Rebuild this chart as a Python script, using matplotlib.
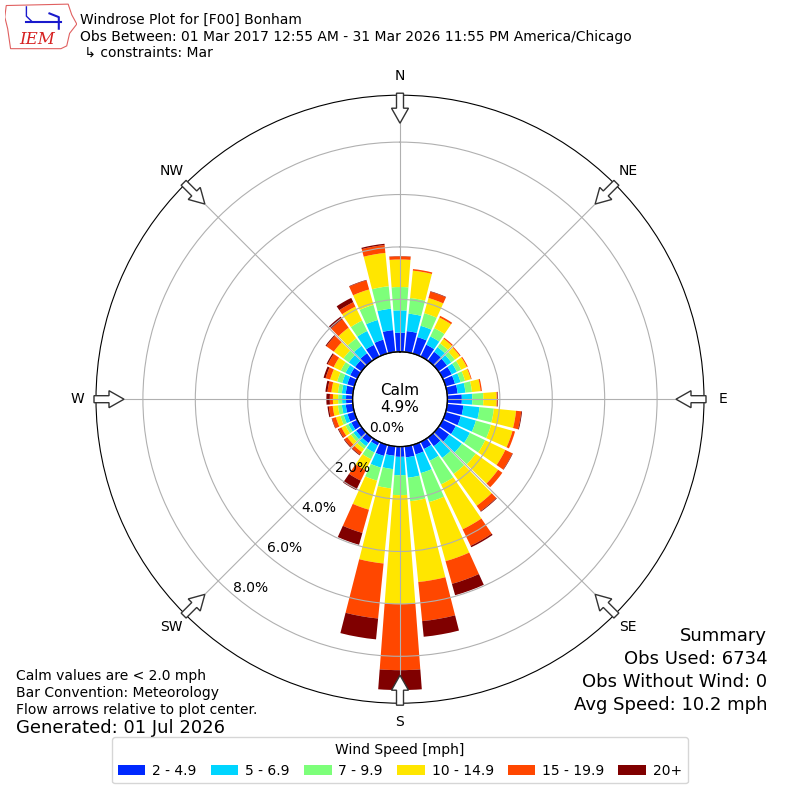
import numpy as np
import matplotlib
matplotlib.use("Agg")
import matplotlib.pyplot as plt
from matplotlib.patches import FancyArrow, Polygon, Patch

# direction bins (degrees, direction wind blows from)
directions = np.arange(0, 360, 10)
speed_labels = ['2 - 4.9', '5 - 6.9', '7 - 9.9', '10 - 14.9', '15 - 19.9', '20+']

# frequency (%) per direction for each speed bin
s_2_5 = [0.73, 0.80, 0.65, 0.50, 0.42, 0.40, 0.38, 0.37, 0.40, 0.55, 0.62, 0.60,
         0.55, 0.50, 0.40, 0.30, 0.38, 0.42, 0.39, 0.36, 0.44, 0.15, 0.25, 0.25,
         0.25, 0.27, 0.27, 0.25, 0.27, 0.28, 0.30, 0.30, 0.35, 0.49, 0.55, 0.84]
s_5_7 = [0.85, 0.67, 0.45, 0.35, 0.22, 0.20, 0.22, 0.22, 0.30, 0.40, 0.62, 0.60,
         0.60, 0.60, 0.55, 0.50, 0.74, 0.78, 0.70, 0.51, 0.46, 0.30, 0.15, 0.13,
         0.13, 0.15, 0.15, 0.15, 0.15, 0.20, 0.20, 0.30, 0.35, 0.59, 0.78, 0.82]
s_7_10 = [0.89, 0.60, 0.50, 0.35, 0.17, 0.17, 0.18, 0.18, 0.25, 0.42, 0.55, 0.60,
          0.65, 0.65, 0.75, 1.00, 1.15, 0.90, 0.76, 0.74, 0.52, 0.28, 0.13, 0.12,
          0.12, 0.13, 0.15, 0.15, 0.15, 0.20, 0.20, 0.25, 0.35, 0.44, 0.60, 0.86]
s_10_15 = [1.05, 1.05, 0.60, 0.45, 0.22, 0.23, 0.24, 0.23, 0.33, 0.51, 0.85, 0.85,
           0.85, 1.05, 1.50, 1.90, 2.34, 3.10, 4.16, 2.88, 1.15, 0.47, 0.15, 0.17,
           0.17, 0.18, 0.20, 0.20, 0.25, 0.28, 0.30, 0.45, 0.50, 0.59, 0.61, 1.28]
s_15_20 = [0.12, 0.06, 0.25, 0.07, 0.05, 0.04, 0.04, 0.03, 0.05, 0.03, 0.20, 0.10,
           0.30, 0.20, 0.25, 0.70, 0.90, 1.50, 2.52, 2.11, 0.92, 0.44, 0.12, 0.13,
           0.12, 0.15, 0.15, 0.12, 0.15, 0.18, 0.25, 0.35, 0.40, 0.19, 0.36, 0.30]
s_20p = [0.01, 0.00, 0.02, 0.00, 0.00, 0.00, 0.00, 0.00, 0.00, 0.02, 0.03, 0.00,
         0.02, 0.00, 0.03, 0.06, 0.45, 0.60, 0.76, 0.80, 0.47, 0.40, 0.03, 0.03,
         0.03, 0.02, 0.05, 0.13, 0.08, 0.08, 0.05, 0.04, 0.12, 0.18, 0.02, 0.05]
series = [s_2_5, s_5_7, s_7_10, s_10_15, s_15_20, s_20p]

rticks = [0, 2, 4, 6, 8]
dir_labels = ['N', 'NE', 'E', 'SE', 'S', 'SW', 'W', 'NW']

colors = plt.cm.jet(np.linspace(1 / 6., 1, 6))

fig = plt.figure(figsize=(8, 8), dpi=100)
ax = fig.add_axes([0.12, 0.121, 0.76, 0.76], projection='polar')
ax.set_theta_zero_location('N')
ax.set_theta_direction(-1)
ax.set_rorigin(-1.81)
ax.set_ylim(0, 9.79)
ax.set_axisbelow(False)

theta = np.deg2rad(directions)
bottom = np.zeros(len(directions))
handles = []
for vals, c, lab in zip(series, colors, speed_labels):
    vals = np.array(vals)
    ax.bar(theta, vals, width=np.deg2rad(8.6), bottom=bottom, color=c,
           linewidth=0, zorder=1)
    bottom += vals
    handles.append(Patch(facecolor=c, label=lab))

ax.set_rgrids(rticks, labels=['%.1f%%' % r for r in rticks], angle=220.5, fontsize=10)
ax.set_xticks(np.deg2rad(np.arange(0, 360, 45)))
ax.set_xticklabels(dir_labels, fontsize=10)
ax.tick_params(axis='x', pad=3)
ax.grid(True, color='#b0b0b0', linewidth=0.8)

# calm hole outline
tt = np.linspace(0, 2 * np.pi, 361)
ax.plot(tt, np.zeros_like(tt), color='k', lw=1.0, clip_on=False, zorder=5)
ax.text(0.5, 0.5, 'Calm\n4.9%', transform=ax.transAxes, ha='center',
        va='center', fontsize=11, zorder=6)

# flow arrows on the outer ring
for d in np.deg2rad(np.arange(0, 360, 45)):
    sx, sy = np.sin(d), np.cos(d)
    r0 = 0.5 * 306 / 304.
    ln = 0.5 * 30 / 304.
    ax.add_patch(FancyArrow(0.5 + r0 * sx, 0.5 + r0 * sy, -ln * sx, -ln * sy,
                            width=7 / 608., head_width=17 / 608.,
                            head_length=15 / 608., length_includes_head=True,
                            transform=ax.transAxes, fc='white', ec='#333333',
                            lw=1.0, clip_on=False, zorder=7))

# header
fig.text(0.1, 0.975, 'Windrose Plot for [F00] Bonham', fontsize=10, va='center')
fig.text(0.1, 0.954, 'Obs Between: 01 Mar 2017 12:55 AM - 31 Mar 2026 11:55 PM America/Chicago',
         fontsize=10, va='center')
fig.text(0.1, 0.934, ' \u21b3 constraints: Mar', fontsize=10, va='center')

# logo
lax = fig.add_axes([0.006, 0.938, 0.09, 0.058])
lax.set_xlim(0, 1)
lax.set_ylim(0, 1)
lax.axis('off')
lax.add_patch(Polygon([(0.02, 0.95), (0.88, 0.98), (0.93, 0.75), (1.0, 0.55),
                       (0.9, 0.35), (0.86, 0.08), (0.78, 0.02), (0.08, 0.02),
                       (0.04, 0.45), (0.0, 0.7)], closed=True, fc='white',
                      ec='#e06060', lw=0.8))
lax.plot([0.3, 0.78], [0.6, 0.6], color='#1a1acc', lw=1.5)
lax.plot([0.62, 0.75, 0.75], [0.78, 0.7, 0.45], color='#1a1acc', lw=1.5)
lax.plot([0.3, 0.3, 0.38], [0.92, 0.72, 0.6], color='#1a1acc', lw=1.0)
lax.text(0.45, 0.22, 'IEM', color='#d62020', fontsize=12, family='serif',
         style='italic', ha='center', va='center')

# footer text
fig.text(0.02, 0.155, 'Calm values are < 2.0 mph', fontsize=10, va='center')
fig.text(0.02, 0.134, 'Bar Convention: Meteorology', fontsize=10, va='center')
fig.text(0.02, 0.1125, 'Flow arrows relative to plot center.', fontsize=10, va='center')
fig.text(0.02, 0.09, 'Generated: 01 Jul 2026', fontsize=13, va='center')

fig.text(0.959, 0.205, 'Summary', fontsize=13, ha='right', va='center')
fig.text(0.959, 0.176, 'Obs Used: 6734', fontsize=13, ha='right', va='center')
fig.text(0.959, 0.1475, 'Obs Without Wind: 0', fontsize=13, ha='right', va='center')
fig.text(0.959, 0.119, 'Avg Speed: 10.2 mph', fontsize=13, ha='right', va='center')

fig.legend(handles=handles, loc='lower center', bbox_to_anchor=(0.5, 0.012),
           ncol=6, title='Wind Speed [mph]', fontsize=10, title_fontsize=10,
           columnspacing=1.0, handletextpad=0.5)

fig.savefig('out.png', dpi=100)
